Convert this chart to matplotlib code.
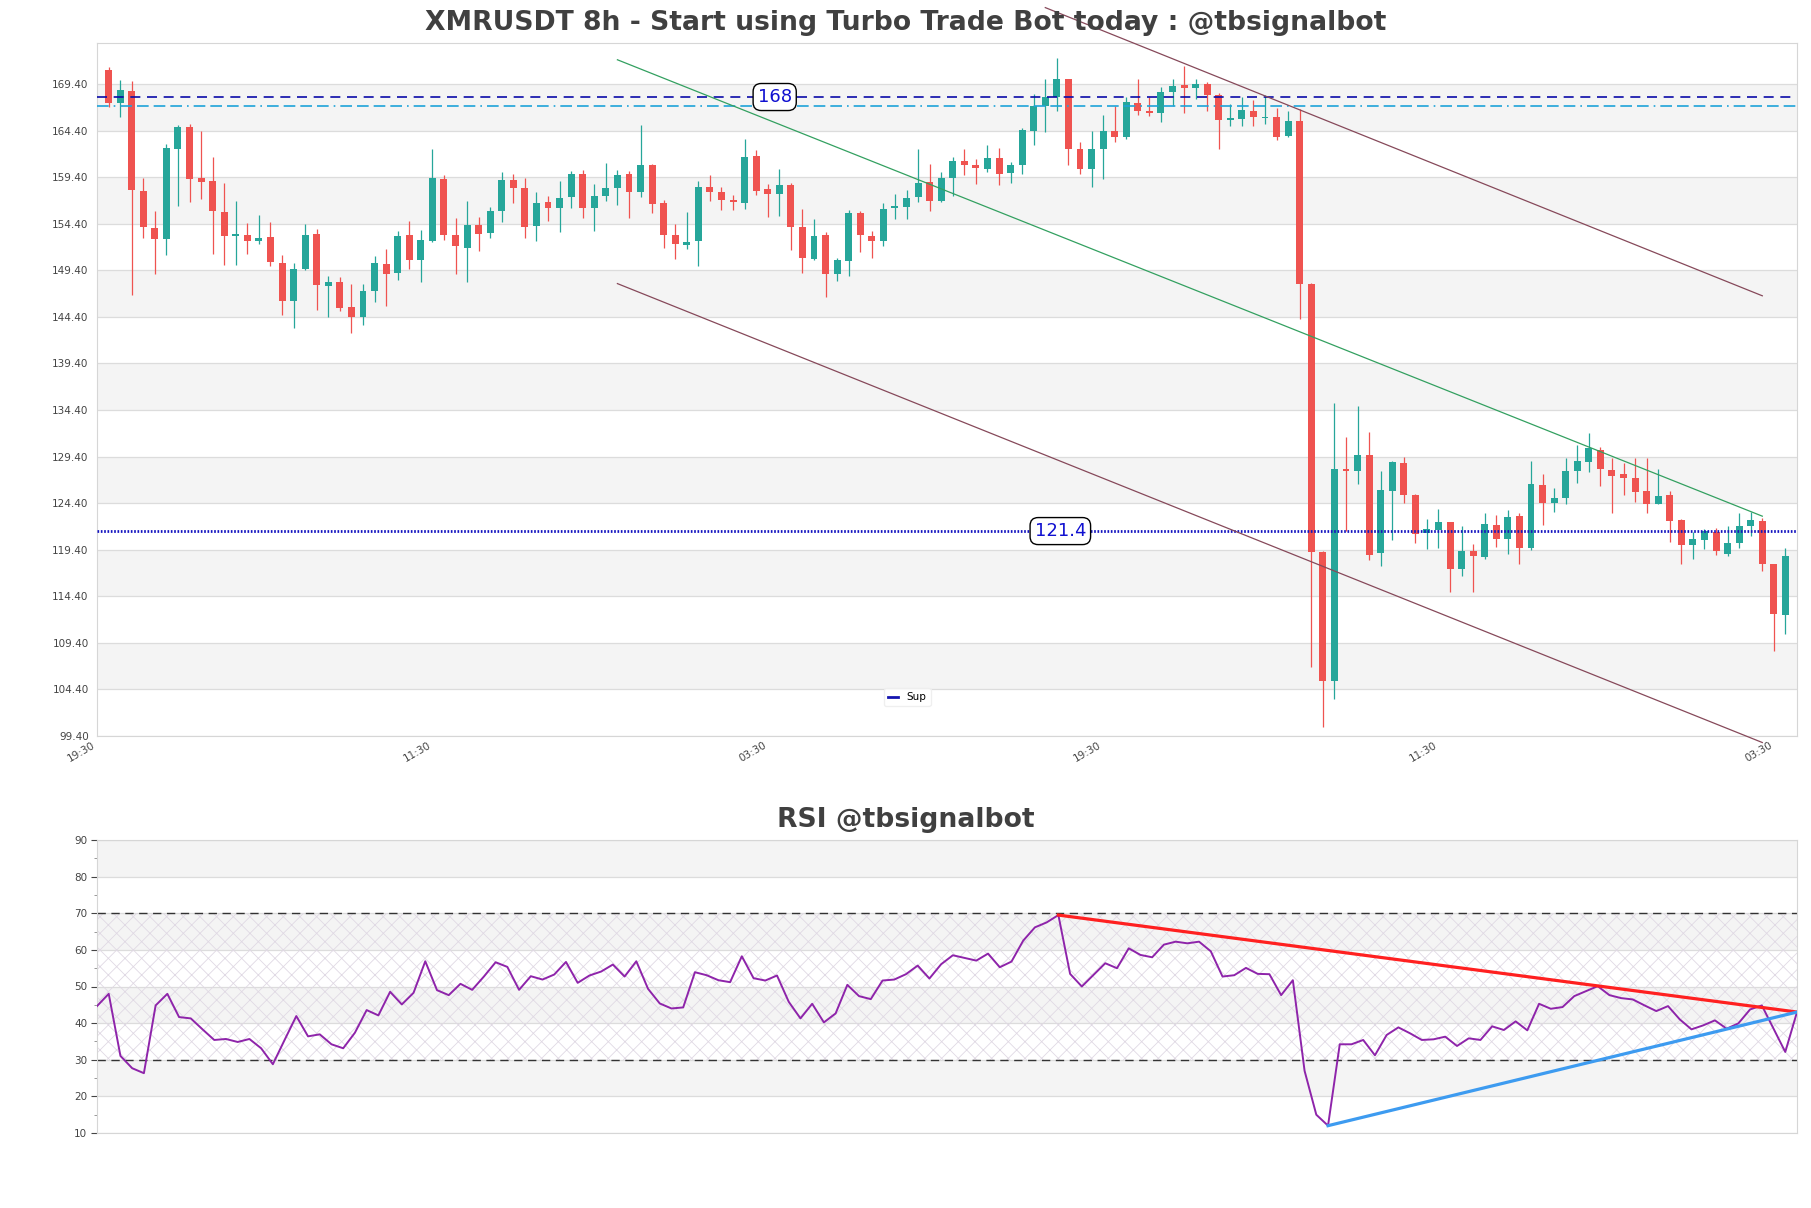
import matplotlib
matplotlib.use('Agg')
import matplotlib.pyplot as plt
from matplotlib.lines import Line2D
from matplotlib.ticker import MultipleLocator

plt.rcParams['hatch.linewidth'] = 0.6

# ---------------- data ----------------
opens = [170.9, 167.33, 168.61, 157.9, 153.97, 152.79, 162.47, 164.79, 159.33, 159.0,
         155.68, 153.04, 153.18, 152.51, 152.97, 150.18, 146.08, 149.51, 153.33, 147.68,
         148.18, 145.51, 144.36, 147.15, 150.08, 149.08, 153.18, 150.47, 152.51, 159.18,
         153.18, 151.83, 154.29, 153.36, 155.72, 159.11, 158.22, 154.11, 156.72, 156.04,
         157.22, 159.76, 156.04, 157.33, 158.18, 159.76, 157.76, 160.72, 156.58, 153.18,
         152.08, 152.51, 158.36, 157.83, 156.93, 156.58, 161.68, 158.11, 157.54, 158.58,
         154.04, 150.65, 153.18, 149.01, 150.36, 155.58, 153.08, 152.54, 156.04, 156.15,
         157.22, 158.86, 156.83, 159.36, 161.18, 160.75, 160.25, 161.5, 159.86, 160.68,
         164.33, 167.04, 167.97, 169.97, 162.43, 160.25, 162.47, 164.36, 163.68, 167.36,
         166.5, 166.29, 168.51, 169.29, 168.97, 169.4, 168.22, 165.54, 165.61, 166.5,
         165.75, 165.9, 163.79, 165.47, 147.93, 119.11, 105.35, 128.11, 127.82, 129.54,
         119.04, 125.67, 128.75, 125.24, 121.16, 121.55, 122.34, 117.36, 119.29, 118.65,
         122.09, 120.51, 123.06, 119.61, 126.39, 124.38, 124.92, 127.82, 128.79, 130.15,
         128.0, 127.5, 127.11, 125.74, 124.35, 125.31, 122.63, 119.87, 120.4, 121.26,
         118.97, 120.08, 121.98, 122.52, 117.86, 112.37]
highs = [171.18, 169.83, 169.68, 159.33, 155.79, 162.97, 165.0, 165.08, 164.4, 161.61,
         158.79, 156.86, 154.51, 155.36, 154.61, 151.08, 150.18, 154.36, 153.86, 148.83,
         148.68, 147.93, 147.93, 150.97, 151.72, 153.61, 154.72, 153.76, 162.43, 159.65,
         155.04, 156.86, 155.11, 156.22, 159.97, 159.76, 159.33, 157.83, 157.4, 158.97,
         160.08, 160.15, 158.68, 160.9, 160.15, 160.04, 164.97, 160.8, 156.93, 154.4,
         155.69, 158.97, 159.65, 158.36, 157.43, 163.51, 162.33, 158.68, 160.29, 158.79,
         155.97, 154.9, 153.51, 150.76, 155.9, 155.79, 153.58, 156.58, 157.61, 158.04,
         162.43, 160.86, 159.97, 161.58, 162.47, 161.4, 162.83, 162.54, 161.04, 164.68,
         168.29, 169.97, 172.18, 169.97, 163.18, 164.36, 166.04, 167.04, 168.0, 169.97,
         168.0, 169.08, 169.97, 171.33, 169.97, 169.61, 168.43, 167.25, 168.0, 167.65,
         168.18, 166.86, 166.5, 166.75, 148.0, 119.29, 135.1, 131.51, 134.85, 132.05,
         127.86, 128.9, 129.4, 125.42, 122.73, 123.81, 122.4, 121.98, 120.04, 123.31,
         123.09, 123.63, 123.34, 128.93, 127.57, 126.03, 129.29, 130.62, 131.94, 130.47,
         129.29, 128.75, 129.29, 129.29, 128.11, 125.74, 122.73, 121.3, 121.59, 121.77,
         121.98, 123.38, 123.49, 122.81, 117.86, 119.61]
lows = [166.97, 165.9, 146.72, 152.9, 148.97, 151.0, 156.26, 156.68, 157.08, 151.11,
        149.93, 149.93, 151.18, 152.19, 149.83, 144.58, 143.22, 149.47, 145.11, 144.4,
        145.0, 142.65, 143.51, 145.97, 145.54, 148.33, 149.58, 148.11, 152.4, 152.68,
        148.97, 148.11, 151.43, 152.83, 154.61, 156.58, 152.9, 152.51, 154.72, 153.51,
        156.04, 154.97, 153.58, 156.79, 156.36, 154.97, 157.22, 155.51, 151.79, 150.58,
        151.65, 149.83, 156.79, 155.83, 155.83, 155.93, 157.43, 155.08, 155.18, 151.54,
        149.11, 150.54, 146.51, 148.22, 148.76, 151.36, 150.69, 151.97, 154.86, 154.93,
        156.72, 155.75, 156.76, 157.36, 159.61, 158.61, 159.9, 158.54, 158.79, 159.75,
        162.83, 164.26, 166.47, 160.68, 159.72, 158.36, 159.22, 163.15, 163.5, 166.04,
        165.93, 165.33, 167.0, 166.25, 167.83, 166.5, 162.4, 164.9, 164.86, 164.93,
        165.08, 163.36, 163.72, 144.18, 106.86, 100.33, 103.34, 121.41, 126.5, 118.25,
        117.61, 120.48, 124.38, 120.08, 119.51, 119.61, 114.85, 116.6, 114.85, 118.36,
        119.72, 118.97, 117.89, 119.33, 122.02, 123.41, 124.27, 126.6, 127.72, 126.21,
        123.31, 125.24, 124.49, 123.31, 124.27, 120.22, 117.89, 118.36, 119.51, 118.79,
        118.68, 119.58, 120.87, 117.11, 108.5, 110.3]
closes = [167.33, 168.76, 157.97, 154.01, 152.72, 162.54, 164.79, 159.15, 158.93, 155.72,
          153.04, 153.29, 152.54, 152.86, 150.29, 146.08, 149.54, 153.18, 147.79, 148.15,
          145.33, 144.36, 147.18, 150.18, 148.97, 153.08, 150.47, 152.65, 159.33, 153.15,
          151.97, 154.29, 153.26, 155.76, 159.11, 158.18, 154.01, 156.65, 156.04, 157.15,
          159.76, 156.04, 157.4, 158.22, 159.65, 157.76, 160.72, 156.47, 153.15, 152.19,
          152.47, 158.36, 157.76, 156.9, 156.68, 161.58, 157.93, 157.54, 158.58, 154.01,
          150.69, 153.08, 148.97, 150.54, 155.58, 153.15, 152.54, 155.97, 156.33, 157.15,
          158.79, 156.83, 159.33, 161.11, 160.68, 160.36, 161.5, 159.72, 160.75, 164.5,
          167.04, 168.0, 169.9, 162.4, 160.29, 162.43, 164.36, 163.68, 167.47, 166.47,
          166.25, 168.54, 169.18, 168.97, 169.36, 168.18, 165.5, 165.72, 166.61, 165.86,
          165.9, 163.72, 165.43, 147.93, 119.15, 105.35, 128.11, 127.86, 129.61, 118.86,
          125.85, 128.83, 125.24, 121.05, 121.59, 122.34, 117.29, 119.29, 118.75, 122.2,
          120.58, 122.91, 119.61, 126.42, 124.38, 124.96, 127.89, 128.97, 130.37, 128.04,
          127.29, 127.07, 125.64, 124.27, 125.17, 122.45, 119.87, 120.58, 121.37, 119.29,
          120.15, 121.94, 122.63, 117.82, 112.45, 118.72]
rsi = [44.65, 48.0, 31.04, 27.69, 26.33, 44.83, 48.0, 41.65, 41.29, 38.3,
       35.4, 35.67, 34.85, 35.67, 33.13, 28.78, 35.4, 41.93, 36.39, 36.94,
       34.22, 33.13, 37.39, 43.56, 42.11, 48.55, 45.1, 48.28, 56.89, 49.0,
       47.64, 50.73, 49.09, 52.72, 56.62, 55.35, 49.09, 52.81, 51.9, 53.27,
       56.71, 51.0, 53.0, 54.08, 55.99, 52.72, 56.89, 49.37, 45.37, 44.0,
       44.29, 53.9, 53.08, 51.72, 51.18, 58.25, 52.27, 51.63, 53.0, 45.83,
       41.29, 45.28, 40.2, 42.65, 50.45, 47.37, 46.55, 51.63, 51.9, 53.36,
       55.71, 52.18, 56.08, 58.53, 57.8, 57.07, 58.98, 55.26, 56.8, 62.52,
       66.15, 67.5, 69.5, 53.45, 50.0, 53.17, 56.35, 54.99, 60.43, 58.62,
       57.98, 61.43, 62.24, 61.79, 62.24, 59.61, 52.72, 53.08, 55.08, 53.45,
       53.36, 47.64, 51.72, 26.96, 14.99, 12.0, 34.22, 34.22, 35.4, 31.22,
       36.76, 38.84, 37.21, 35.4, 35.58, 36.3, 33.76, 35.85, 35.4, 39.12,
       38.12, 40.48, 38.03, 45.28, 43.92, 44.38, 47.37, 48.73, 50.09, 47.64,
       46.83, 46.46, 44.83, 43.29, 44.65, 41.02, 38.3, 39.39, 40.75, 38.48,
       39.93, 43.74, 44.83, 38.5, 32.13, 43.02]

tick_idx = [-1, 28, 57, 86, 115, 144]
tick_labels = ['19:30', '11:30', '03:30', '19:30', '11:30', '03:30']
price_ticks = [99.4, 104.4, 109.4, 114.4, 119.4, 124.4, 129.4, 134.4, 139.4,
               144.4, 149.4, 154.4, 159.4, 164.4, 169.4]
res_level = 168.0
res2_level = 167.0
sup_level = 121.4
chan_mid_x, chan_mid_y = [44, 143], [172.0, 123.0]
chan_up_x, chan_up_y = [81, 143], [177.6, 146.66]
chan_lo_x, chan_lo_y = [44, 143], [147.97, 98.7]
rsi_dn_x, rsi_dn_y = [82, 145], [69.5, 43.02]
rsi_up_x, rsi_up_y = [105, 145], [12.0, 43.02]

# ---------------- figure ----------------
W, H = 1811, 1208
fig = plt.figure(figsize=(W / 100, H / 100), dpi=100)
fig.patch.set_facecolor('white')

def axpos(l, t, r, b):
    return [l / W, 1 - b / H, (r - l) / W, (b - t) / H]

ax = fig.add_axes(axpos(97, 43, 1797, 736))
ax2 = fig.add_axes(axpos(97, 840, 1797, 1133))

UP = '#26a69a'
DN = '#ef5350'
BAND = '#f4f4f4'
GRID = '#dcdcdc'
SPINE = '#d6d6d6'
TXT = '#444444'

n = len(opens)
xs = list(range(n))

# main axis background bands
ylo, yhi = 99.4, 173.8
for k in range(len(price_ticks)):
    lo = price_ticks[k]
    if k % 2 == 1:
        ax.axhspan(lo, lo + 5, color=BAND, zorder=0, lw=0)
for p in price_ticks:
    ax.axhline(p, color=GRID, lw=0.9, zorder=0.5)

# candles
for i in xs:
    o, h, l, c = opens[i], highs[i], lows[i], closes[i]
    col = UP if c >= o else DN
    ax.vlines(i, l, h, color=col, lw=0.9, zorder=3)
    bot = min(o, c)
    ht = max(abs(c - o), 0.12)
    ax.bar(i, ht, bottom=bot, width=0.6, color=col, edgecolor=col, lw=0, zorder=4)

# horizontal levels
ax.axhline(res_level, color='#0a0aa8', lw=1.2, ls=(0, (6, 4)), zorder=5)
ax.axhline(res2_level, color='#1ea3d9', lw=1.2, ls=(0, (7, 3, 1, 3, 7, 3, 7, 3, 7, 3)), zorder=5)
ax.axhline(sup_level, color='#1515c0', lw=2.0, ls=(0, (0.6, 0.6)), zorder=5)

# channel lines
ax.plot(chan_mid_x, chan_mid_y, color='#33a060', lw=0.9, zorder=6)
ax.plot(chan_up_x, chan_up_y, color='#86495a', lw=0.9, zorder=6, clip_on=False)
ax.plot(chan_lo_x, chan_lo_y, color='#86495a', lw=0.9, zorder=6, clip_on=False)

box = dict(boxstyle='round,pad=0.25,rounding_size=0.45', fc='white', ec='black', lw=1.0)
ax.text(57.6, res_level, '%g' % res_level, color='#1010d0', fontsize=13,
        ha='center', va='center', bbox=box, zorder=8)
ax.text(82.3, sup_level, '%g' % sup_level, color='#1010d0', fontsize=13,
        ha='center', va='center', bbox=box, zorder=8)

leg = ax.legend(handles=[Line2D([], [], color='#1515b0', lw=2)], labels=['Sup'],
                loc='center', bbox_to_anchor=(0.4765, 0.056), fontsize=7.5,
                handlelength=1.0, frameon=True, framealpha=0.9, edgecolor='#eeeeee',
                borderpad=0.4)
leg.set_zorder(9)

ax.set_xlim(-1, 146)
ax.set_ylim(ylo, yhi)
ax.set_yticks(price_ticks)
ax.set_yticklabels(['%.2f' % p for p in price_ticks])
ax.set_xticks(tick_idx)
ax.set_xticklabels(tick_labels, rotation=30, ha='right')
ax.tick_params(axis='both', length=0, labelsize=7.5, colors=TXT)
ax.tick_params(axis='y', pad=6)
ax.tick_params(axis='x', pad=3)
for s in ax.spines.values():
    s.set_color(SPINE)

# ---------------- RSI ----------------
for lo in [20, 40, 60, 80]:
    ax2.axhspan(lo, lo + 10, color=BAND, zorder=0, lw=0)
for v in range(10, 91, 10):
    ax2.axhline(v, color=GRID, lw=0.9, zorder=0.5)
ax2.axhspan(30, 70, facecolor='none', edgecolor='#e0d9e4', hatch='xx', lw=0, zorder=0.6)
ax2.axhline(70, color='#333333', lw=1.0, ls=(0, (6, 4)), zorder=2)
ax2.axhline(30, color='#333333', lw=1.0, ls=(0, (6, 4)), zorder=2)
ax2.plot(xs, rsi, color='#8e24aa', lw=1.4, zorder=3)
ax2.plot(rsi_dn_x, rsi_dn_y, color='#ff2020', lw=2.3, zorder=4)
ax2.plot(rsi_up_x, rsi_up_y, color='#3d9bf0', lw=2.3, zorder=4)
ax2.set_xlim(0, 145)
ax2.set_ylim(10, 90)
ax2.yaxis.set_major_locator(MultipleLocator(10))
ax2.yaxis.set_minor_locator(MultipleLocator(5))
ax2.set_xticks([])
ax2.tick_params(axis='y', which='major', length=4, labelsize=7.5, colors=TXT, pad=3)
ax2.tick_params(axis='y', which='minor', length=2, colors='#888888')
for s in ax2.spines.values():
    s.set_color(SPINE)

# titles
fig.text(0.5, 1 - 23 / H, 'XMRUSDT 8h - Start using Turbo Trade Bot today : @tbsignalbot',
         ha='center', va='center', fontsize=19.2, fontweight='bold', color='#404040')
fig.text(0.5, 1 - 820 / H, 'RSI @tbsignalbot', ha='center', va='center',
         fontsize=19.2, fontweight='bold', color='#404040')

fig.savefig('out.png', dpi=100, facecolor='white')
